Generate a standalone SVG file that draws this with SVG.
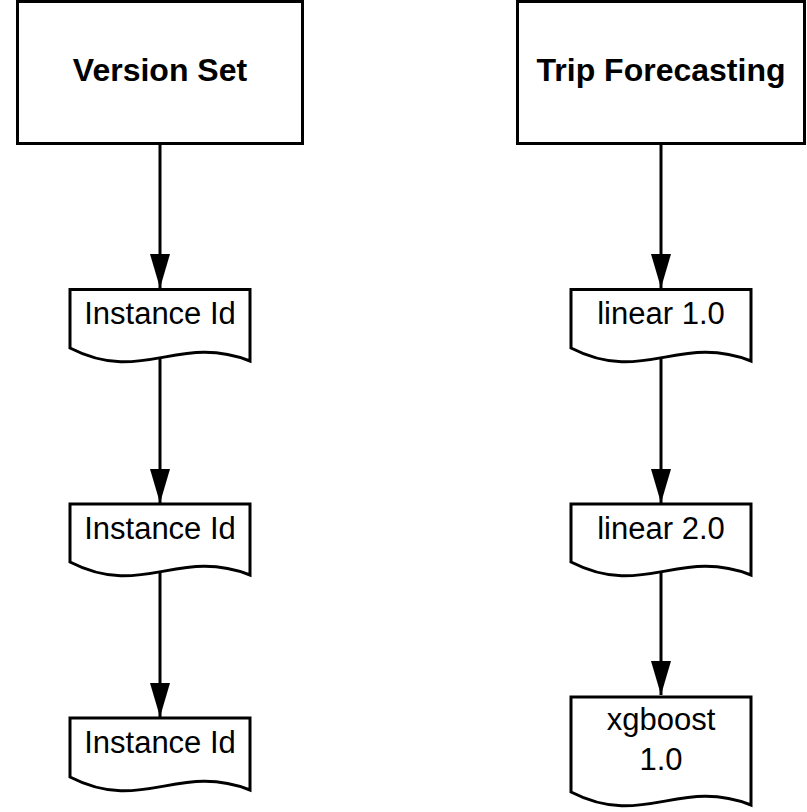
<svg xmlns="http://www.w3.org/2000/svg" width="807" height="812" viewBox="0 0 807 812">
<style>
.box{fill:#fff;stroke:#000;stroke-width:3}
.t{font-family:"Liberation Sans",Arial,sans-serif;font-size:31px;fill:#000;text-anchor:middle}
.b{font-weight:bold;font-size:32px}
.c{stroke:#000;stroke-width:3;fill:none}
</style>
<defs>
<marker id="ah" markerWidth="34" markerHeight="20" refX="34" refY="10" orient="auto" markerUnits="userSpaceOnUse" viewBox="0 0 34 20">
<path d="M0,0 L34,10 L0,20 Z" fill="#000"/>
</marker>
</defs>
<rect width="807" height="812" fill="#fff"/>
<g id="connectors">
<line class="c" x1="160" y1="144" x2="160" y2="288" marker-end="url(#ah)"/>
<line class="c" x1="160" y1="354" x2="160" y2="503" marker-end="url(#ah)"/>
<line class="c" x1="160" y1="569" x2="160" y2="717" marker-end="url(#ah)"/>
<line class="c" x1="661" y1="144" x2="661" y2="288" marker-end="url(#ah)"/>
<line class="c" x1="661" y1="354" x2="661" y2="503" marker-end="url(#ah)"/>
<line class="c" x1="661" y1="569" x2="661" y2="695" marker-end="url(#ah)"/>
</g>
<g id="version-set">
<rect class="box" x="17.5" y="1.5" width="285" height="142"/>
<text class="t b" x="160" y="81">Version Set</text>
</g>
<g id="trip-forecasting">
<rect class="box" x="517.5" y="1.5" width="287" height="142"/>
<text class="t b" x="661" y="81">Trip Forecasting</text>
</g>
<g id="instance-1">
<path class="box" d="M70,289.5 H250 V361 C178,333 142,385 70,348 Z"/>
<text class="t" x="160" y="324">Instance Id</text>
</g>
<g id="instance-2">
<path class="box" d="M70,504 H250 V575 C178,547 142,599 70,562 Z"/>
<text class="t" x="160" y="539">Instance Id</text>
</g>
<g id="instance-3">
<path class="box" d="M70,718 H250 V790 C178,762 142,814 70,777 Z"/>
<text class="t" x="160" y="753">Instance Id</text>
</g>
<g id="linear-1">
<path class="box" d="M571,289.5 H751 V361 C679,333 643,385 571,348 Z"/>
<text class="t" x="661" y="324">linear 1.0</text>
</g>
<g id="linear-2">
<path class="box" d="M571,504 H751 V575 C679,547 643,599 571,562 Z"/>
<text class="t" x="661" y="539">linear 2.0</text>
</g>
<g id="xgboost">
<path class="box" d="M571,697 H751 V805 C679,777 643,829 571,792 Z"/>
<text class="t" x="661" y="730">xgboost</text>
<text class="t" x="661" y="770">1.0</text>
</g>
</svg>
